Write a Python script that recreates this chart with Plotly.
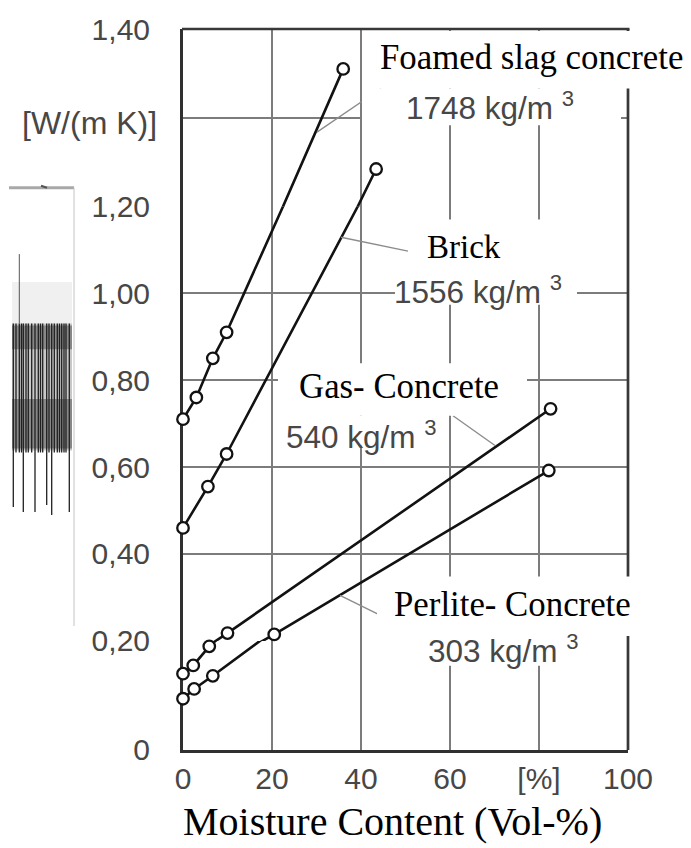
import plotly.graph_objects as go

# ---------------- data ----------------
foamed_x = [0, 3, 6.7, 9.8, 36]
foamed_y = [0.71, 0.76, 0.85, 0.91, 1.355]
brick_x = [0, 5.6, 9.8, 43.4]
brick_y = [0.46, 0.555, 0.63, 1.242]
gas_x = [0, 2.3, 5.9, 10, 82.6]
gas_y = [0.14, 0.155, 0.19, 0.218, 0.734]
perlite_x = [0, 2.5, 6.7, 20.5, 82.2]
perlite_y = [0.094, 0.112, 0.136, 0.215, 0.592]

# drawn curves (they pass the 1,20 grid line here)
foamed_curve_x = [0, 3, 6.7, 9.8, 22.5, 36]
foamed_curve_y = [0.71, 0.76, 0.85, 0.91, 1.20, 1.355]
brick_curve_x = [0, 5.6, 9.8, 39.3, 43.4]
brick_curve_y = [0.46, 0.555, 0.63, 1.20, 1.242]

x_ticks = [0, 20, 40, 60, 80, 100]
x_ticktext = ["0", "20", "40", "60", "[%]", "100"]
y_ticks_low = [0]
y_ticks_mid = [0.2, 0.4, 0.6, 0.8, 1.0, 1.2]
y_ticks_top = [1.3, 1.4]
y_ticktext_top = ["", "1,40"]

series = [
    ("Foamed slag concrete", foamed_x, foamed_y, foamed_curve_x, foamed_curve_y),
    ("Brick", brick_x, brick_y, brick_curve_x, brick_curve_y),
    ("Gas- Concrete", gas_x, gas_y, gas_x, gas_y),
    ("Perlite- Concrete", perlite_x, perlite_y, perlite_x, perlite_y),
]

# ---------------- geometry helpers ----------------
W, H = 691, 848
ML, MR, MT, MB = 183, 63, 23, 98
PW = W - ML - MR
PH = H - MT - MB
BOT = H - MB


def fx(px):
    return (px - ML) / PW


def fy(py):
    return (BOT - py) / PH


def lab(v):
    return "0" if v == 0 else f"{v:.2f}".replace(".", ",")


# the y axis of the reference is drawn in three linear bands
bands = [("y", (0.0, 0.2), (0, fy(640))),
         ("y2", (0.2, 1.2), (fy(640), fy(201.7))),
         ("y3", (1.2, 1.4), (fy(201.7), 1))]

LINE = "#121212"
GRID = "#7c7c7c"
TICKC = "#474747"
SANS = "Liberation Sans, Arial, sans-serif"
SERIF = "Liberation Serif, Times New Roman, serif"

fig = go.Figure()
for name, xs, ys, cx, cy in series:
    for i, (ax, (lo, hi), _) in enumerate(bands):
        fig.add_trace(go.Scatter(
            x=cx, y=cy, mode="lines", xaxis="x", yaxis=ax,
            line=dict(color=LINE, width=2.6), hoverinfo="skip", showlegend=False))
        last = i == len(bands) - 1
        sel = [(x, y) for x, y in zip(xs, ys) if lo <= y < hi or (last and y == hi)]
        if sel:
            fig.add_trace(go.Scatter(
                x=[p[0] for p in sel], y=[p[1] for p in sel], mode="markers",
                xaxis="x", yaxis=ax, name=name, cliponaxis=False, showlegend=False,
                marker=dict(symbol="circle", size=11.5, color="white",
                            line=dict(color=LINE, width=2.3))))

axis_common = dict(showgrid=True, gridcolor=GRID, gridwidth=1.8, zeroline=False,
                   ticks="", showline=True, linecolor="#303030", linewidth=3,
                   layer="below traces",
                   tickfont=dict(family=SANS, size=30, color=TICKC))

fig.update_layout(
    width=W, height=H,
    margin=dict(l=ML, r=MR, t=MT, b=MB, pad=0),
    paper_bgcolor="white", plot_bgcolor="white", showlegend=False,
    xaxis=dict(range=[0, 100], domain=[0, 1], anchor="y", tickmode="array",
               tickvals=x_ticks, ticktext=x_ticktext, ticklabelstandoff=0,
               **axis_common),
)
for ax, (lo, hi), dom in bands:
    if ax == "y":
        tv, tt = y_ticks_low, [lab(v) for v in y_ticks_low]
    elif ax == "y2":
        tv, tt = y_ticks_mid, [lab(v) for v in y_ticks_mid]
    else:
        tv, tt = y_ticks_top, y_ticktext_top
    key = "yaxis" if ax == "y" else "yaxis" + ax[1:]
    fig.update_layout({key: dict(range=[lo, hi], domain=list(dom), anchor="x",
                                 tickmode="array", tickvals=tv, ticktext=tt,
                                 ticklabelstandoff=24, **axis_common)})

shapes = []


def pline(x0, y0, x1, y1, color, width):
    shapes.append(dict(type="line", xref="paper", yref="paper",
                       x0=fx(x0), y0=fy(y0), x1=fx(x1), y1=fy(y1),
                       line=dict(color=color, width=width), layer="above"))


def wbox(x0, y0, x1, y1):
    shapes.append(dict(type="rect", xref="paper", yref="paper",
                       x0=fx(x0), y0=fy(y1), x1=fx(x1), y1=fy(y0),
                       fillcolor="white", line=dict(width=0), layer="above"))


def grect(x0, y0, x1, y1, color, op):
    shapes.append(dict(type="rect", xref="paper", yref="paper",
                       x0=fx(x0), y0=fy(y1), x1=fx(x1), y1=fy(y0),
                       fillcolor=color, line=dict(width=0), opacity=op, layer="above"))


# frame top / right
pline(ML - 1, MT, ML + PW + 1.5, MT, "#383838", 2.7)
pline(ML + PW, MT, ML + PW, BOT, "#383838", 2.7)

# leader lines
pline(381, 83, 317, 127, "#8c8c8c", 1.4)
pline(408, 247, 341, 233, "#8c8c8c", 1.4)
pline(453, 413, 495, 443, "#8c8c8c", 1.4)
pline(340, 594, 380, 614, "#8c8c8c", 1.4)

# label boxes
wbox(363, 25, 700, 83)    # Foamed slag concrete
wbox(362, 83, 621, 120)   # 1748
wbox(410, 215, 567, 272)  # Brick
wbox(395, 272, 577, 301)  # 1556
wbox(278, 360, 527, 413)  # Gas
wbox(281, 413, 447, 443)  # 540
wbox(377, 575, 633, 635)  # Perlite
wbox(408, 635, 614, 665)  # 303

# scan artefact at the left edge
pline(9, 183, 74, 183, "#a8a8a8", 3)
pline(74, 183, 74, 625, "#c4c4c4", 1)
pline(41, 181, 47, 183, "#555", 2)
grect(12, 278, 72, 320, "#e6e6e6", 0.6)
grect(12, 320, 72, 448, "#9a9a9a", 0.55)
grect(12, 322, 72, 346, "#3a3a3a", 0.45)
grect(12, 396, 72, 446, "#3a3a3a", 0.45)
stripes = [(13.3, 505), (16, 450), (19.3, 450), (21.5, 450), (23.3, 510), (26, 450),
           (28.3, 450), (31.7, 450), (35, 510), (38.3, 450), (40.5, 450), (42.7, 450),
           (46.7, 503), (49, 450), (51.7, 513), (54.3, 450), (57.3, 450), (59.5, 450),
           (61.7, 450), (64, 450), (66, 450), (69.3, 510)]
for sx, send in stripes:
    pline(sx, 320, sx, send, "#202020", 1.3)
pline(19.3, 250, 19.3, 320, "#555", 1)

fig.update_layout(shapes=shapes)

ann = []


def text(px, py, s, font, anchor="left"):
    ann.append(dict(xref="paper", yref="paper", x=fx(px), y=fy(py), text=s,
                    showarrow=False, xanchor=anchor, yanchor="middle", font=font,
                    borderpad=0))


serif = dict(family=SERIF, size=34.8, color="#000")
gray = dict(family=SANS, size=31.5, color="#474747")

text(379, 52, "Foamed slag concrete", serif)
text(405, 101, "1748 kg/m <sup>3</sup>", gray)
text(426, 243, "Brick", dict(family=SERIF, size=33, color="#000"))
text(393, 286, "1556 kg/m <sup>3</sup>", gray)
text(298, 383, "Gas- Concrete", serif)
text(285, 432, "540 kg/m <sup>3</sup>", gray)
text(393, 603, "Perlite- Concrete", serif)
text(427, 648, "303 kg/m <sup>3</sup>", gray)
text(158, 118, "[W/(m K)]", dict(family=SANS, size=32, color=TICKC), anchor="right")
text(392, 822, "Moisture Content (Vol-%)", dict(family=SERIF, size=40, color="#000"),
     anchor="center")

fig.update_layout(annotations=ann)

fig.write_html("out.html")
